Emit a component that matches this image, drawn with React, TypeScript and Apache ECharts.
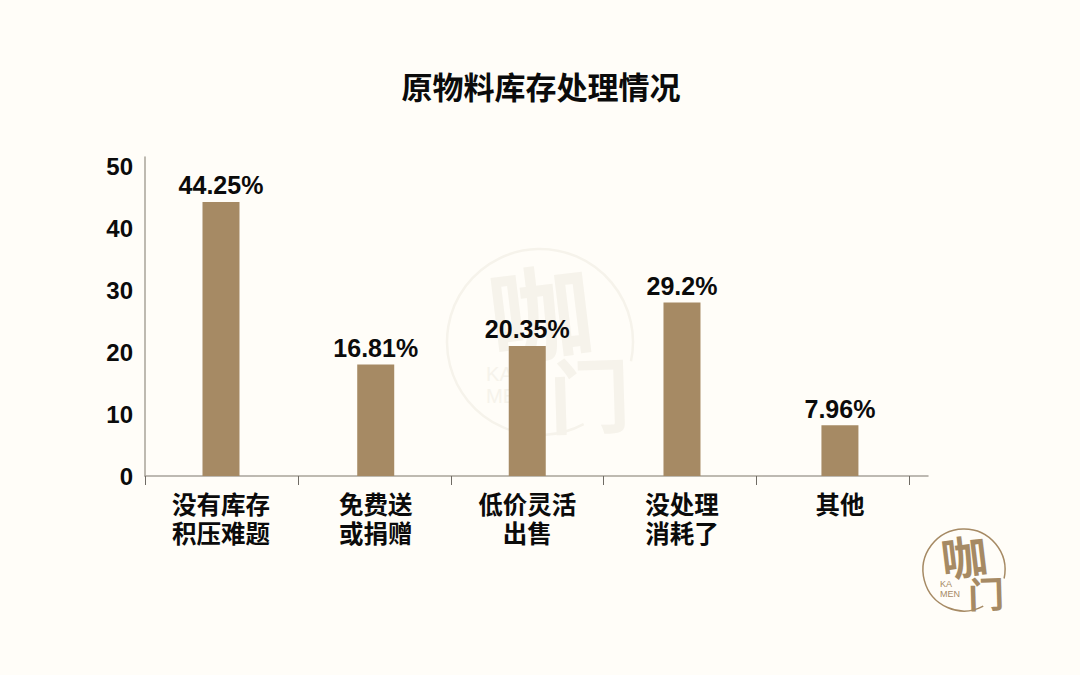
import React, { useEffect, useRef } from "react";
import * as echarts from "echarts";

const title = "原物料库存处理情况";
const categories = ["没有库存\n积压难题", "免费送\n或捐赠", "低价灵活\n出售", "没处理\n消耗了", "其他"];
const categorySlots = [0.497, 1.509, 2.5, 3.512, 4.545];
const barValues = [44.25, 18, 21, 28, 8.2];
const barLabels = ["44.25%", "16.81%", "20.35%", "29.2%", "7.96%"];
const slotTicks = [0, 1, 2, 3, 4, 5];

const BG = "#FFFDF8";
const BAR = "#A68A64";
const AXIS = "#A8A39A";
const INK = "#0B0B0B";
const LATIN = '"Liberation Sans", Arial, sans-serif';
const CJK = '"Noto Sans CJK SC", "Liberation Sans", sans-serif';

function logoMark(
  cx: number, cy: number, r: number, color: string, lineWidth: number, k: number, z: number
) {
  const txt = (text: string, dx: number, dy: number, size: number, rot: number, family: string, weight: number) => ({
    type: "text", z, x: cx + dx * k, y: cy + dy * k, rotation: rot, silent: true,
    style: { text, fill: color, font: `${weight} ${size * k}px ${family}`, align: "center", verticalAlign: "middle" },
  });
  return [
    { type: "arc", z, silent: true,
      shape: { cx, cy, r, startAngle: (62 * Math.PI) / 180, endAngle: (372 * Math.PI) / 180, clockwise: true },
      style: { stroke: color, lineWidth, fill: "none" } },
    txt("咖", 0, -15, 46, 0.12, CJK, 700),
    txt("门", 22, 22, 36, 0.03, CJK, 700),
    txt("KA", -18, 14, 9, 0, LATIN, 400),
    txt("MEN", -14, 24, 9, 0, LATIN, 400),
  ];
}

export default function App() {
  const ref = useRef<HTMLDivElement>(null);
  useEffect(() => {
    const chart = echarts.init(ref.current!, null, { renderer: "svg" });
    chart.setOption({
      animation: false,
      backgroundColor: BG,
      title: {
        text: title, left: 536, top: 65, textAlign: "center",
        textStyle: { fontFamily: CJK, fontWeight: "bold", fontSize: 31, color: INK },
      },
      grid: { left: 145, right: 152, top: 157, bottom: 199 },
      xAxis: {
        type: "value", min: 0, max: 5.121, splitLine: { show: false },
        axisLine: { show: true, onZero: false, lineStyle: { color: AXIS, width: 1.5 } },
        axisTick: { show: true, customValues: slotTicks, length: 9, lineStyle: { color: "#6F6B64", width: 1 } },
        axisLabel: {
          customValues: categorySlots, margin: 13, lineHeight: 29,
          fontFamily: CJK, fontWeight: "bold", fontSize: 24.5, color: INK,
          formatter: (v: number) => categories[categorySlots.indexOf(v)],
        },
      },
      yAxis: {
        type: "value", min: 0, max: 51.5, interval: 10, splitLine: { show: false },
        axisLine: { show: true, lineStyle: { color: AXIS, width: 1.5 } },
        axisTick: { show: false },
        axisLabel: {
          showMaxLabel: false, margin: 12, padding: [2, 0, 0, 0],
          fontFamily: LATIN, fontWeight: "bold", fontSize: 24, color: INK,
        },
      },
      series: [{
        type: "bar", barWidth: 37, z: 3,
        data: barValues.map((v, i) => [categorySlots[i], v]),
        itemStyle: { color: BAR },
        label: {
          show: true, position: "top", distance: 4,
          fontFamily: LATIN, fontWeight: "bold", fontSize: 25, color: INK,
          formatter: (p: any) => barLabels[p.dataIndex],
        },
      }],
      graphic: {
        elements: [
          ...logoMark(540, 342, 93, "#F6F3EB", 2.5, 2.25, -1),
          ...logoMark(964, 570, 41, BAR, 1.5, 1, 5),
        ],
      },
    });
    return () => chart.dispose();
  }, []);
  return <div ref={ref} style={{ position: "absolute", left: 0, top: 0, width: 1080, height: 675 }} />;
}
